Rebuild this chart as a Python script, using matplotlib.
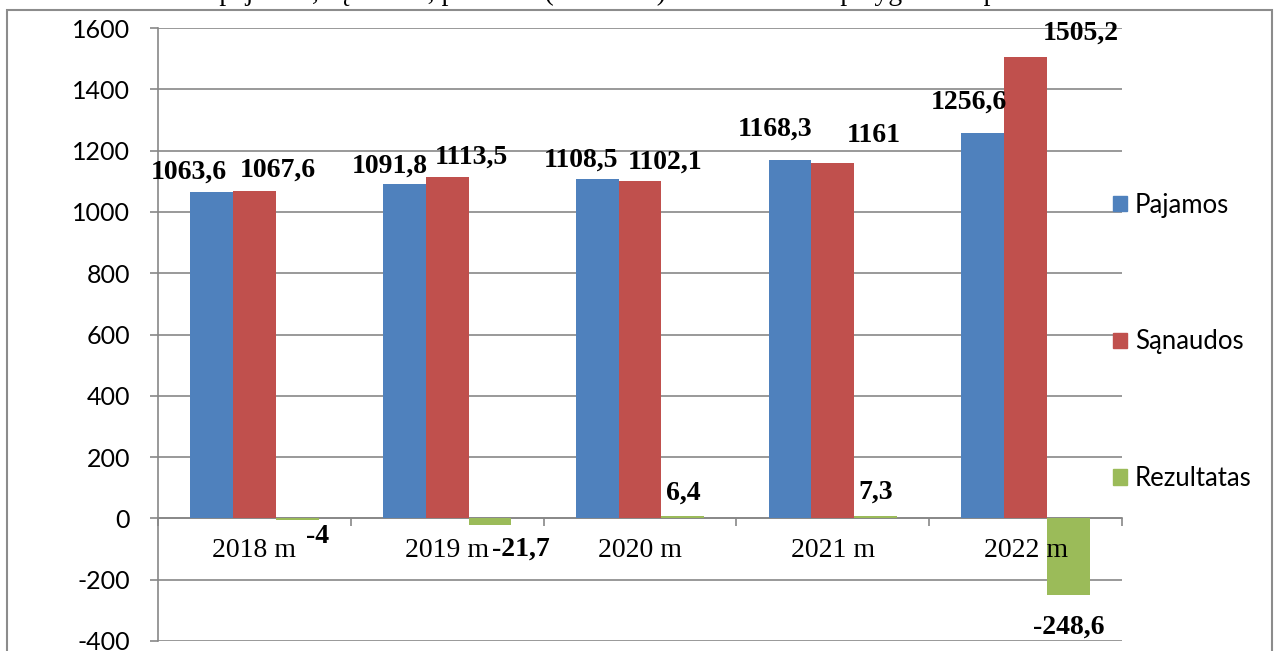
import matplotlib.pyplot as plt
import matplotlib.patches as mpatches
import numpy as np

plt.rcParams["axes.unicode_minus"] = False

# data
years = ["2018 m", "2019 m", "2020 m", "2021 m", "2022 m"]
pajamos = [1063.6, 1091.8, 1108.5, 1168.3, 1256.6]
sanaudos = [1067.6, 1113.5, 1102.1, 1161, 1505.2]
rezultatas = [-4, -21.7, 6.4, 7.3, -248.6]
series_names = ["Pajamos", "Sąnaudos", "Rezultatas"]
title_text = "Centro pajamos, sąnaudos, perviršis (nuostolio) 2018–2022 m. palyginimas per metus"

colors = ["#4F81BD", "#C0504D", "#9BBB59"]
grid_col = "#878787"

# label offsets (pixels) relative to bar end, hand placed like in the original
label_offsets = [
    [(-23, 20), (-15, 18), (-16, 18), (-15, 31), (-14, 31)],
    [(23, 21), (24, 20), (25, 18), (41, 27), (55, 24)],
    [(20, -17), (31, -24), (0, 23), (0, 24), (0, -33)],
]

W, H = 1277, 651
fig = plt.figure(figsize=(W / 100, H / 100), dpi=100)
ax = fig.add_axes([158 / W, 1 - 641 / H, (1122 - 158) / W, (641 - 28) / H])

x = np.arange(len(years))
bw = 1 / 4.5
all_series = [pajamos, sanaudos, rezultatas]

for i, (vals, name, col) in enumerate(zip(all_series, series_names, colors)):
    xs = x + (i - 1) * bw
    ax.bar(xs, vals, bw, color=col, label=name, zorder=3)
    for j, (xx, v) in enumerate(zip(xs, vals)):
        txt = f"{v:g}".replace(".", ",")
        ax.annotate(txt, (xx, v), xytext=label_offsets[i][j], textcoords="offset pixels",
                    ha="center", va="center", fontsize=20, fontweight="bold",
                    family="Liberation Serif", zorder=5)

ax.set_xlim(-0.5, len(years) - 0.5)
ax.set_ylim(-400, 1600)
ax.set_yticks(np.arange(-400, 1601, 200))
ax.tick_params(axis="y", labelsize=18, length=6, width=1.2, color=grid_col, pad=14)
for lab in ax.get_yticklabels():
    lab.set_family("Lato")
ax.grid(axis="y", color=grid_col, linewidth=1.2, zorder=0)
ax.set_axisbelow(True)

# category axis at zero, labels drawn over the bars
ax.spines["bottom"].set_position(("data", 0))
ax.spines["bottom"].set_color(grid_col)
ax.spines["bottom"].set_linewidth(1.2)
ax.spines["left"].set_color(grid_col)
ax.spines["left"].set_linewidth(1.2)
ax.spines["top"].set_visible(False)
ax.spines["right"].set_visible(False)
ax.set_xticks(x)
ax.set_xticklabels(years, fontsize=20, family="Liberation Serif")
ax.set_xticks(np.arange(-0.5, len(years)), minor=True)
ax.tick_params(axis="x", which="major", length=0, pad=14)
ax.tick_params(axis="x", which="minor", length=6, width=1.2, color=grid_col)
ax.xaxis.set_zorder(4)

handles = [mpatches.Patch(color=c) for c in colors]
fig.legend(handles, series_names, loc="center left", bbox_to_anchor=(1113 / W, 1 - 342 / H),
           frameon=False, prop={"family": "Lato", "size": 18.5}, handlelength=0.56,
           handleheight=0.56, handletextpad=0.3, labelspacing=4.35, borderpad=0, borderaxespad=0)

# outer chart border and clipped caption above it
fig.patches.append(mpatches.Rectangle((7 / W, -0.1), 1265 / W, 1 - 10 / H + 0.1, fill=False,
                                      edgecolor="#8C8C8C", linewidth=1.5,
                                      transform=fig.transFigure, clip_on=False))
fig.text(137 / W, 1.0, title_text, ha="left", va="baseline", fontsize=20,
         family="Liberation Serif")

fig.savefig("out.png", dpi=100)
